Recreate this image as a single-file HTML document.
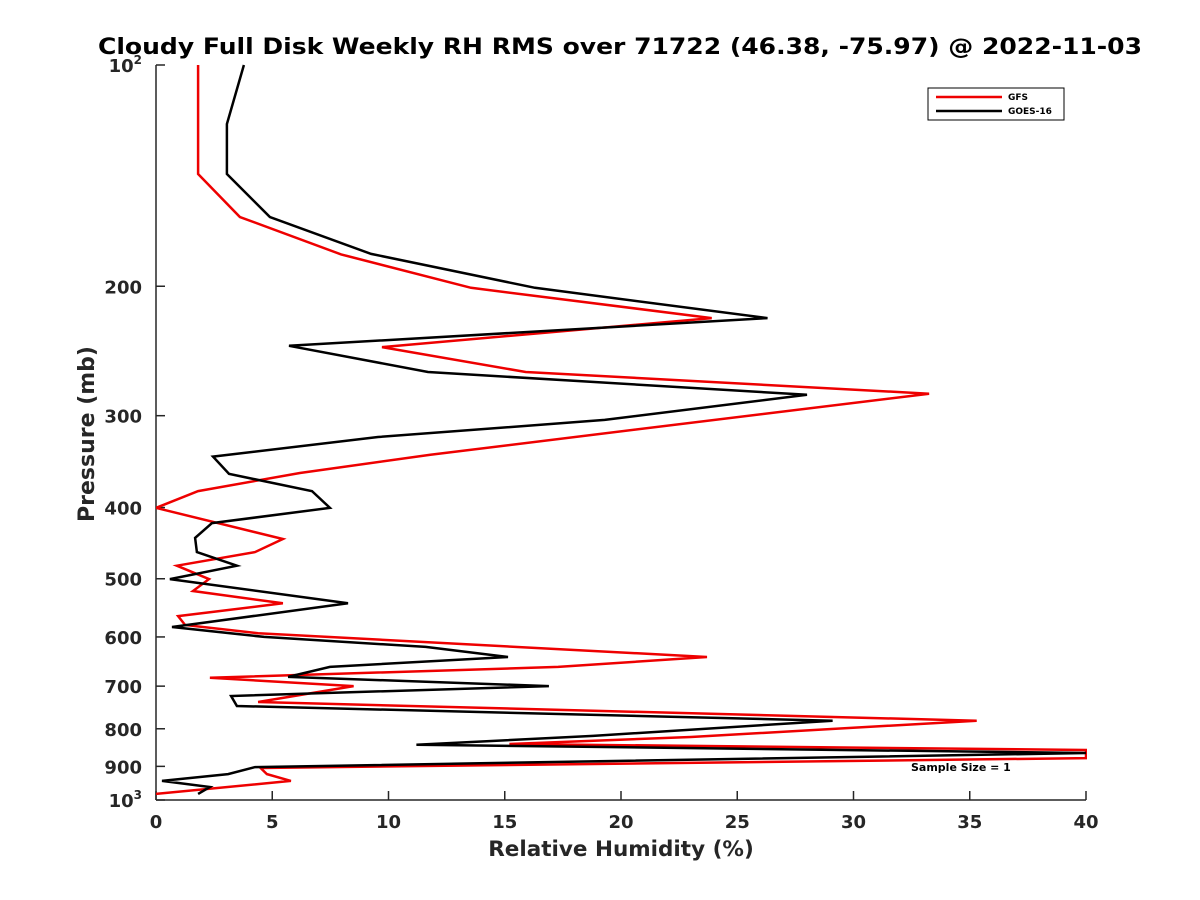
<!DOCTYPE html>
<html><head><meta charset="utf-8"><style>
body{margin:0;background:#fff;}
svg{display:block;font-family:"DejaVu Sans","Liberation Sans",sans-serif;}
</style></head><body>
<svg id="chart" width="1200" height="900" viewBox="0 0 1200 900">
<rect width="1200" height="900" fill="#fff"/>
<text x="620" y="54" text-anchor="middle" font-size="22" font-weight="bold" textLength="1044" lengthAdjust="spacingAndGlyphs">Cloudy Full Disk Weekly RH RMS over 71722 (46.38, -75.97) @ 2022-11-03</text>
<g id="axes"></g>
<g id="series"></g>
<text x="621" y="856" text-anchor="middle" font-size="21.5" font-weight="bold" fill="#262626">Relative Humidity (%)</text>
<text transform="translate(94,434) rotate(-90)" text-anchor="middle" font-size="22" font-weight="bold" fill="#262626">Pressure (mb)</text>
<text x="911" y="771" font-size="11" font-weight="bold">Sample Size = 1</text>
<g>
<rect x="928" y="88" width="136" height="32" fill="#fff" stroke="#000" stroke-width="1"/>
<line x1="936" y1="97" x2="1002" y2="97" stroke="#e00" stroke-width="2.5"/>
<text x="1008" y="100" font-size="9" font-weight="bold">GFS</text>
<line x1="936" y1="111" x2="1002" y2="111" stroke="#000" stroke-width="2.5"/>
<text x="1008" y="114" font-size="9" font-weight="bold">GOES-16</text>
</g>
</svg>
<script>
const xTicks=[0,5,10,15,20,25,30,35,40];
const yTicks=[100,200,300,400,500,600,700,800,900,1000];
const goesP=[100,120.3,140.7,161,180.7,201,221,241,261.6,281,304,320.7,341,360,380,400.5,420,440,460,480,500.5,540,581.6,600,619,639,659,680,700,722,745,780,818,841,863,902,922,942,960,981];
const goesV=[3.78,3.05,3.05,4.9,9.25,16.3,26.3,5.72,11.7,28.0,19.3,9.55,2.45,3.14,6.71,7.48,2.41,1.68,1.76,3.48,0.6,8.26,0.69,4.65,11.6,15.14,7.48,5.68,16.9,3.23,3.48,29.1,18.8,11.2,40,4.26,3.1,0.26,2.32,1.81];
const gfsP=[100,140.7,161,181,201,221,242,261.6,280,339,359,380,400.5,441.5,460,480,500.5,519.6,540,562,578,593,639,659,682,700,735.6,780,821,839,855,877,904.5,922,942,981];
const gfsV=[1.81,1.81,3.61,7.96,13.55,23.9,9.72,15.9,33.25,11.8,6.19,1.81,0,5.46,4.26,0.9,2.28,1.59,5.46,0.95,1.25,4.39,23.7,17.3,2.32,8.5,4.39,35.3,23,15.2,40,40,4.5,4.77,5.8,0];
const X0=156,X1=1086,Y0=65,Y1=800;
const sx=v=>X0+(v-0)/(40-0)*(X1-X0);
const sy=p=>Y0+(Math.log10(p)-2)*(Y1-Y0);
const NS="http://www.w3.org/2000/svg";
const ax=document.getElementById('axes');
function mk(t,a){const e=document.createElementNS(NS,t);for(const k in a)e.setAttribute(k,a[k]);return e;}
let l=mk('line',{x1:X0,y1:Y0,x2:X0,y2:Y1,stroke:'#262626','stroke-width':1.5});


ax.appendChild(l);
l=mk('line',{x1:X0,y1:Y1,x2:X1,y2:Y1,stroke:'#262626','stroke-width':1.5});


ax.appendChild(l);
xTicks.forEach(v=>{
 const t=mk('line',{x1:sx(v),y1:Y1,x2:sx(v),y2:Y1-9,stroke:'#262626','stroke-width':1.5});
 
 
 ax.appendChild(t);
 const s=mk('text',{x:sx(v),y:Y1+28,'text-anchor':'middle','font-size':18,'font-weight':'bold',fill:'#262626'});
 s.textContent=v;
 
 
 ax.appendChild(s);
});
yTicks.forEach(p=>{
 const y=sy(p);
 const t=mk('line',{x1:X0,y1:y,x2:X0+9,y2:y,stroke:'#262626','stroke-width':1.5});
 
 
 ax.appendChild(t);
 const s=mk('text',{x:X0-14,y:y+7,'text-anchor':'end','font-size':18,'font-weight':'bold',fill:'#262626'});
 if(p===100||p===1000){s.textContent='10';const sp=mk('tspan',{dy:-8,'font-size':12});sp.textContent=p===100?'2':'3';s.appendChild(sp);}
 else s.textContent=p;
 
 
 ax.appendChild(s);
});
const sg=document.getElementById('series');
const clip=mk('clipPath',{id:'pc'});clip.appendChild(mk('rect',{x:X0,y:Y0-2,width:X1-X0+1,height:Y1-Y0+4}));sg.appendChild(clip);
function draw(P,V,col,name){
 const pts=P.map((p,i)=>sx(V[i]).toFixed(1)+','+sy(p).toFixed(1)).join(' ');
 const pl=mk('polyline',{points:pts,fill:'none',stroke:col,'stroke-width':2.5,'stroke-linejoin':'miter','clip-path':'url(#pc)'});
 
 
 sg.appendChild(pl);
}
draw(gfsP,gfsV,'#e00','gfs-line');
draw(goesP,goesV,'#000','goes16-line');
</script>
</body></html>
